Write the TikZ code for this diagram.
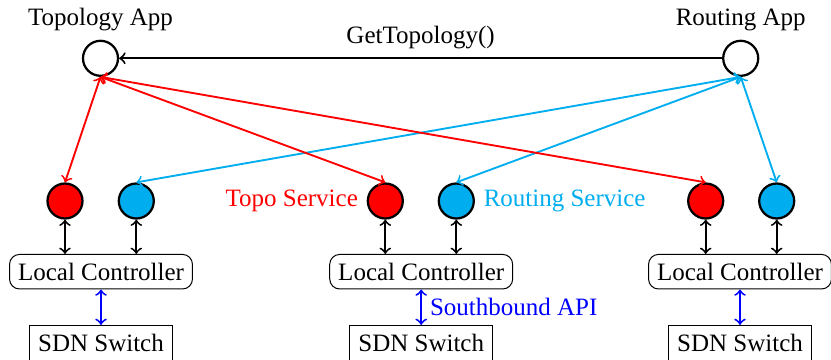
\documentclass[tikz,border=0pt]{standalone}
\usepackage{fontspec}
\setmainfont{Liberation Serif}
\usetikzlibrary{calc}
\definecolor{svcblue}{RGB}{0,174,239}
\begin{document}
\begin{tikzpicture}[x=0.4pt,y=-0.4pt,
  app/.style={circle,draw,line width=0.9pt,minimum size=14pt,inner sep=0pt,fill=white},
  topo/.style={app,fill=red},
  rout/.style={app,fill=svcblue},
  ctrl/.style={draw,rounded corners=4pt,inner sep=3.4pt},
  sw/.style={draw,inner sep=3.4pt},
  link/.style={line width=0.75pt,<->}]
\useasboundingbox (0,0) rectangle (831,359);
\node[app,label=above:Topology App] (ta) at (100.5,58.3) {};
\node[app,label=above:Routing App] (ra) at (740.7,58.3) {};
\draw[line width=0.8pt,->] (ra) -- node[above]{GetTopology()} (ta);

\foreach \i/\cx/\rx/\bx in {1/101/65/136.3, 2/421.2/385.3/456.3, 3/740/705.7/776.7}{
  \node[topo] (r\i) at (\rx,201) {};
  \node[rout] (b\i) at (\bx,201) {};
  \node[ctrl] (c\i) at (\cx,271.7) {Local Controller};
  \node[sw] (s\i) at (\cx,342.7) {SDN Switch};
  \draw[link] (r\i.south) -- (r\i.south |- c\i.north);
  \draw[link] (b\i.south) -- (b\i.south |- c\i.north);
  \draw[link,blue] (c\i.south) -- (s\i.north);
  \draw[link,red] (ta.south) -- (r\i.north);
  \draw[link,svcblue] (ra.south) -- (b\i.north);
}
\node[anchor=east,text=red] (tl) at (r2.west) {Topo Service};
\node[anchor=west,text=svcblue] (rl) at (b2.east) {Routing Service};
\coordinate (sbm) at ($(c2.south)!0.5!(s2.north)$);
\node[anchor=west,text=blue] (sl) at (sbm) {Southbound API};
\end{tikzpicture}
\end{document}
